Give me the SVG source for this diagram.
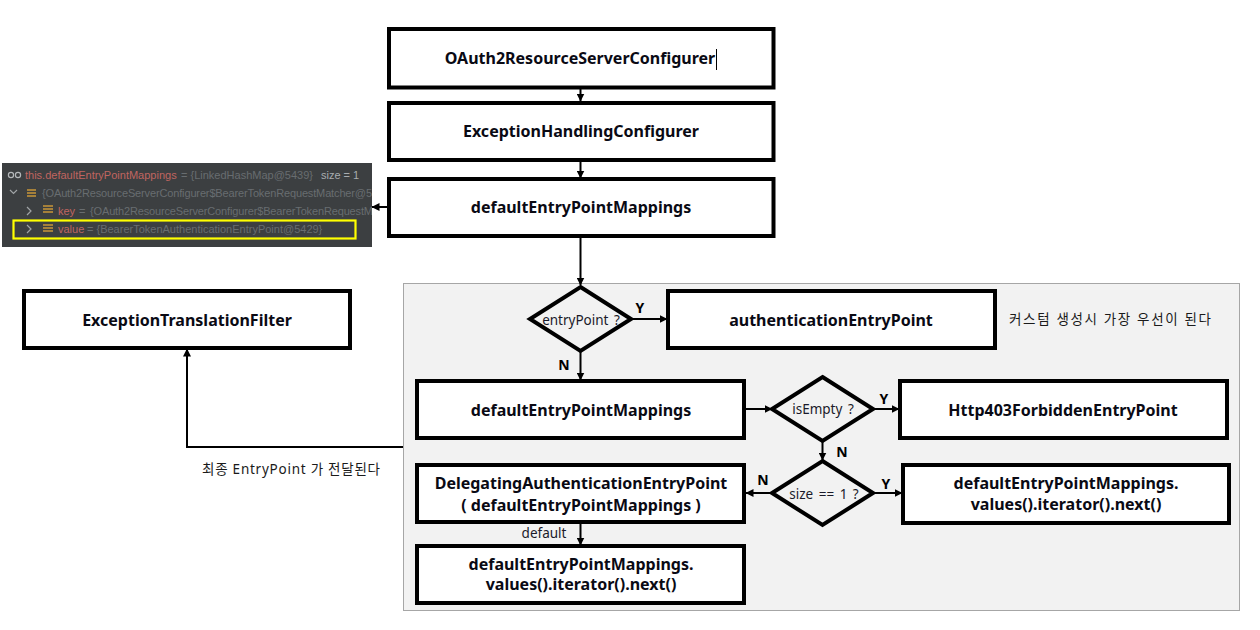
<svg xmlns="http://www.w3.org/2000/svg" width="1260" height="630" viewBox="0 0 1260 630">
<style>
text{font-family:"Noto Sans","Noto Sans CJK KR",sans-serif;fill:#000}
.box{fill:#fff;stroke:#000;stroke-width:4}
.dia{fill:none;stroke:#000;stroke-width:4;stroke-linejoin:miter}
.b{font-size:16px;font-weight:700;text-anchor:middle;fill:#0a0a14}
.yn{font-size:14px;font-weight:700;text-anchor:middle}
.l{font-size:13.500px;text-anchor:middle;fill:#1a1a2a;word-spacing:2px}
.k{font-size:13.500px;fill:#1a1a1a}
.c{fill:none;stroke:#000;stroke-width:2}
.d{font-family:"Liberation Sans",sans-serif;font-size:11px;fill:#686d70}
.bar{fill:#a5803a}
.chev{fill:none;stroke:#a0a4a6;stroke-width:1.200}
</style>
<defs>
<marker id="a" markerUnits="userSpaceOnUse" markerWidth="8" markerHeight="8" refX="7.500" refY="4" orient="auto"><path d="M0 0L8 4L0 8z" fill="#000"/></marker>
<clipPath id="dbg"><rect x="2" y="163" width="370" height="84"/></clipPath>
</defs>
<rect x="0" y="0" width="1260" height="630" fill="#fff"/>
<rect id="panel" x="403.500" y="283.500" width="836" height="327" fill="#f2f2f2" stroke="#a6a6a6" stroke-width="1"/>
<g id="debug-panel" clip-path="url(#dbg)">
<rect x="2" y="163" width="370" height="84" fill="#3c3f41"/>
<circle cx="11" cy="175" r="2.600" fill="none" stroke="#b5b8ba" stroke-width="1.200"/><circle cx="18" cy="175" r="2.600" fill="none" stroke="#b5b8ba" stroke-width="1.200"/>
<text class="d" x="25" y="179" style="fill:#c06560">this.defaultEntryPointMappings</text>
<text class="d" x="181" y="179">= {LinkedHashMap@5439}</text>
<text class="d" x="321" y="179" style="fill:#a9adb0">size = 1</text>
<path class="chev" d="M10 190L13.500 193.500L17 190"/>
<path class="bar" d="M27 189h9v2h-9zM27 192h9v2h-9zM27 195h9v2h-9z"/>
<text class="d" x="42" y="197" textLength="330" lengthAdjust="spacing">{OAuth2ResourceServerConfigurer$BearerTokenRequestMatcher@5</text>
<path class="chev" d="M27 207L31 211L27 215"/>
<path class="bar" d="M43 205h10v2h-10zM43 208h10v2h-10zM43 211h10v2h-10z"/>
<text class="d" x="58" y="215" style="fill:#c06560">key</text>
<text class="d" x="79" y="215">=</text>
<text class="d" x="90" y="215" textLength="283" lengthAdjust="spacing">{OAuth2ResourceServerConfigurer$BearerTokenRequestM</text>
<path class="chev" d="M27 225L31 229L27 233"/>
<path class="bar" d="M43 224h10v2h-10zM43 227h10v2h-10zM43 230h10v2h-10z"/>
<text class="d" x="58" y="233" style="fill:#c06560">value</text>
<text class="d" x="87" y="233">= {BearerTokenAuthenticationEntryPoint@5429}</text>
<rect x="13.500" y="220.500" width="342" height="18" fill="none" stroke="#ffff00" stroke-width="2.200"/>
</g>
<g id="connectors">
<path class="c" d="M580.500 88V101" marker-end="url(#a)"/>
<path class="c" d="M580.500 161V178" marker-end="url(#a)"/>
<path class="c" d="M388 207H372" marker-end="url(#a)"/>
<path class="c" d="M580.500 237V285" marker-end="url(#a)"/>
<path class="c" d="M632 319H667" marker-end="url(#a)"/>
<path class="c" d="M580.500 352V380" marker-end="url(#a)"/>
<path class="c" d="M745 409H772" marker-end="url(#a)"/>
<path class="c" d="M873 409H899" marker-end="url(#a)"/>
<path class="c" d="M822.500 442V460" marker-end="url(#a)"/>
<path class="c" d="M772 493H746" marker-end="url(#a)"/>
<path class="c" d="M873 493H902" marker-end="url(#a)"/>
<path class="c" d="M580.500 523V545" marker-end="url(#a)"/>
<path class="c" d="M403 447H187V349" marker-end="url(#a)"/>
</g>
<g id="n1"><rect class="box" x="389" y="29" width="384.500" height="58.500"/><text class="b" x="580" y="64">OAuth2ResourceServerConfigurer</text><path d="M716.500 49V70" stroke="#000" stroke-width="1"/></g>
<g id="n2"><rect class="box" x="389" y="103" width="384.500" height="57"/><text class="b" x="581" y="137">ExceptionHandlingConfigurer</text></g>
<g id="n3"><rect class="box" x="389" y="179" width="384.500" height="57"/><text class="b" x="581" y="213">defaultEntryPointMappings</text></g>
<g id="n4"><rect class="box" x="24" y="291" width="326" height="57"/><text class="b" x="187" y="326">ExceptionTranslationFilter</text></g>
<g id="n5"><path class="dia" d="M580.500 287L631 319L580.500 351L530 319Z"/><text class="l" x="581" y="325">entryPoint ?</text></g>
<g id="n6"><rect class="box" x="668" y="291" width="327" height="57"/><text class="b" x="831" y="326">authenticationEntryPoint</text></g>
<g id="n7"><rect class="box" x="417" y="381" width="327" height="57"/><text class="b" x="581" y="416">defaultEntryPointMappings</text></g>
<g id="n8"><path class="dia" d="M822.500 377L873 409L822.500 441L772 409Z"/><text class="l" x="823" y="414">isEmpty ?</text></g>
<g id="n9"><rect class="box" x="900" y="381" width="327" height="57"/><text class="b" x="1063" y="416">Http403ForbiddenEntryPoint</text></g>
<g id="n10"><path class="dia" d="M822.500 461L873 493L822.500 525L772 493Z"/><text class="l" x="824" y="499">size == 1 ?</text></g>
<g id="n11"><rect class="box" x="417" y="465" width="327" height="57"/><text class="b" x="581" y="489">DelegatingAuthenticationEntryPoint</text><text class="b" x="581" y="511">( defaultEntryPointMappings )</text></g>
<g id="n12"><rect class="box" x="903" y="465" width="326" height="58"/><text class="b" x="1066" y="489">defaultEntryPointMappings.</text><text class="b" x="1066" y="510">values().iterator().next()</text></g>
<g id="n13"><rect class="box" x="417" y="546" width="327" height="57"/><text class="b" x="581" y="569.500">defaultEntryPointMappings.</text><text class="b" x="581" y="590">values().iterator().next()</text></g>
<g id="labels">
<text class="yn" x="640" y="313">Y</text>
<text class="yn" x="564" y="370">N</text>
<text class="yn" x="884" y="404">Y</text>
<text class="yn" x="842" y="457">N</text>
<text class="yn" x="763" y="485">N</text>
<text class="yn" x="886" y="489">Y</text>
<text class="l" x="544" y="538" style="word-spacing:0">default</text>
<text class="k" x="1009" y="324" textLength="202" lengthAdjust="spacing">커스텀 생성시 가장 우선이 된다</text>
<text class="k" x="202" y="474" textLength="178" lengthAdjust="spacing">최종 EntryPoint 가 전달된다</text>
</g>
</svg>
